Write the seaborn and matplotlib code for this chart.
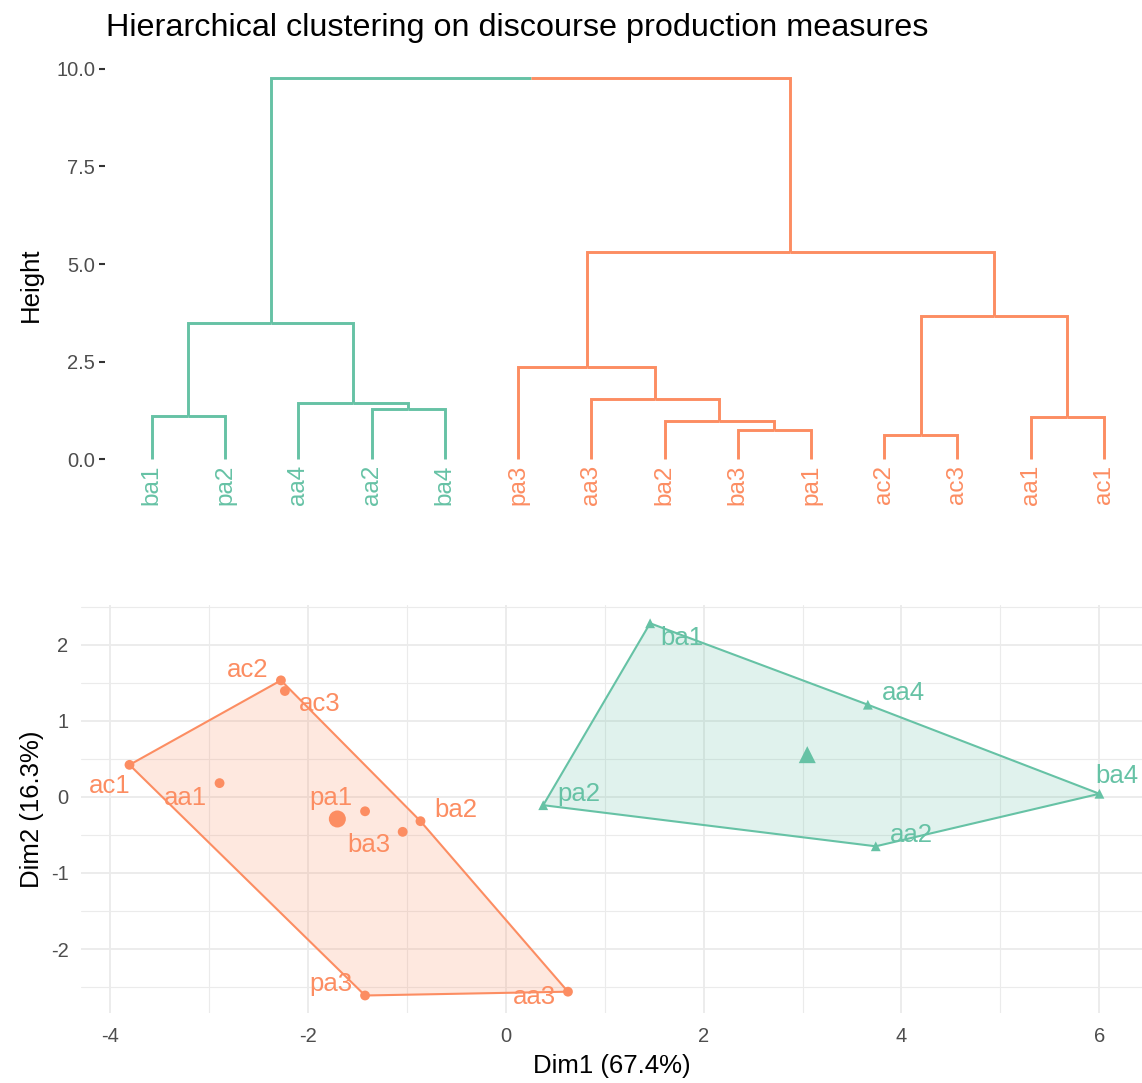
import numpy as np
import pandas as pd
import seaborn as sns
import matplotlib.pyplot as plt

# ~~~ Dendrogram data ~~~
leaf_order = ["ba1", "pa2", "aa4", "aa2", "ba4", "pa3", "aa3",
              "ba2", "ba3", "pa1", "ac2", "ac3", "aa1", "ac1"]
leaf_cluster = ["2"] * 5 + ["1"] * 9
# merge i creates node "m{i}"
merge_left = ["ba3", "ac2", "ba2", "aa1", "ba1", "aa2", "aa4",
              "aa3", "pa3", "m4", "m1", "m8", "m9"]
merge_right = ["pa1", "ac3", "m0", "ac1", "pa2", "ba4", "m5",
               "m2", "m7", "m6", "m3", "m10", "m11"]
merge_height = [0.74, 0.63, 0.99, 1.09, 1.12, 1.29, 1.45,
                1.55, 2.37, 3.50, 3.67, 5.31, 9.77]

# ~~~ PCA individuals ~~~
pt_labels = ["ac2", "ac3", "ac1", "aa1", "pa1", "ba2", "ba3", "pa3", "aa3",
             "ba1", "aa4", "ba4", "aa2", "pa2"]
dim1 = [-2.27, -2.23, -3.80, -2.89, -1.42, -0.86, -1.04, -1.42, 0.63,
        1.46, 3.66, 6.00, 3.74, 0.38]
dim2 = [1.53, 1.39, 0.42, 0.18, -0.19, -0.32, -0.46, -2.61, -2.56,
        2.28, 1.21, 0.04, -0.65, -0.11]
pt_cluster = ["1"] * 9 + ["2"] * 5

cluster_colors = {"1": "#FC8D62", "2": "#66C2A5"}
cluster_markers = {"1": "o", "2": "^"}

# label offsets (data units) like ggrepel put them
label_offset = {
    "ac2": (-0.34, 0.13), "ac3": (0.35, -0.17), "ac1": (-0.20, -0.28),
    "aa1": (-0.34, -0.20), "pa1": (-0.35, 0.17), "ba2": (0.36, 0.15),
    "ba3": (-0.34, -0.17), "pa3": (-0.35, 0.15), "aa3": (-0.34, -0.07),
    "ba1": (0.32, -0.19), "aa4": (0.36, 0.15), "ba4": (0.18, 0.23),
    "aa2": (0.36, 0.15), "pa2": (0.36, 0.15),
}

sns.set_theme(style="white")
plt.rcParams["font.family"] = ["Liberation Sans", "DejaVu Sans"]
plt.rcParams["axes.unicode_minus"] = False

W, H = 1142, 1083
fig = plt.figure(figsize=(W / 100, H / 100), dpi=100)

# ~~~ Top: dendrogram ~~~
ax1 = fig.add_axes([105 / W, 1 - 510 / H, 1037 / W, 451 / H])
nodes = {}
for i, lab in enumerate(leaf_order):
    nodes[lab] = (i + 1, 0.0, leaf_cluster[i])
for i, (l, r, h) in enumerate(zip(merge_left, merge_right, merge_height)):
    xl, yl, cl = nodes[l]
    xr, yr, cr = nodes[r]
    xm = (xl + xr) / 2
    for xc, yc, cc in ((xl, yl, cl), (xr, yr, cr)):
        ax1.plot([xc, xc, xm], [yc, h, h], color=cluster_colors.get(cc, "black"),
                 lw=2.1, solid_joinstyle="miter", solid_capstyle="butt")
    nodes[f"m{i}"] = (xm, h, cl if cl == cr else None)

for i, lab in enumerate(leaf_order):
    ax1.text(i + 1, -0.15, lab, rotation=90, ha="center", va="top",
             color=cluster_colors[leaf_cluster[i]], fontsize=17.5)

ax1.set_xlim(0.36, 14.52)
ax1.set_ylim(-1.3, 10.25)
ax1.set_xticks([])
ax1.set_yticks([0, 2.5, 5, 7.5, 10])
ax1.set_yticklabels(["0.0", "2.5", "5.0", "7.5", "10.0"])
ax1.tick_params(axis="y", left=True, length=4, width=1.5, color="#333333",
                labelcolor="#4D4D4D", labelsize=14.5, pad=3)
for s in ax1.spines.values():
    s.set_visible(False)
ax1.set_ylabel("Height", fontsize=18.5, color="black", labelpad=10)

fig.text(106 / W, 1 - 36 / H, "Hierarchical clustering on discourse production measures",
         fontsize=23.3, color="black", ha="left", va="baseline")

# ~~~ Bottom: cluster plot ~~~
ax2 = fig.add_axes([81 / W, 1 - 1013 / H, 1061 / W, 408 / H])
df = pd.DataFrame({"label": pt_labels, "Dim1": dim1, "Dim2": dim2, "cluster": pt_cluster})


def convex_hull(pts):
    pts = sorted(set(pts))

    def cross(o, a, b):
        return (a[0] - o[0]) * (b[1] - o[1]) - (a[1] - o[1]) * (b[0] - o[0])

    lower, upper = [], []
    for p in pts:
        while len(lower) >= 2 and cross(lower[-2], lower[-1], p) <= 0:
            lower.pop()
        lower.append(p)
    for p in reversed(pts):
        while len(upper) >= 2 and cross(upper[-2], upper[-1], p) <= 0:
            upper.pop()
        upper.append(p)
    return lower[:-1] + upper[:-1]


for cl, g in df.groupby("cluster"):
    hull = convex_hull(list(zip(g["Dim1"], g["Dim2"])))
    hx = [p[0] for p in hull] + [hull[0][0]]
    hy = [p[1] for p in hull] + [hull[0][1]]
    ax2.fill(hx, hy, facecolor=cluster_colors[cl], alpha=0.2, edgecolor="none", zorder=1)
    ax2.plot(hx, hy, color=cluster_colors[cl], lw=1.5, zorder=2)

sns.scatterplot(data=df, x="Dim1", y="Dim2", hue="cluster", style="cluster",
                palette=cluster_colors, markers=cluster_markers, s=50,
                linewidth=0, legend=False, ax=ax2, zorder=3)

centers = df.groupby("cluster", as_index=False)[["Dim1", "Dim2"]].mean()
sns.scatterplot(data=centers, x="Dim1", y="Dim2", hue="cluster", style="cluster",
                palette=cluster_colors, markers=cluster_markers, s=150,
                linewidth=0, legend=False, ax=ax2, zorder=3)

for _, row in df.iterrows():
    dx, dy = label_offset[row["label"]]
    ax2.text(row["Dim1"] + dx, row["Dim2"] + dy, row["label"], ha="center", va="center",
             fontsize=18.5, color=cluster_colors[row["cluster"]], zorder=4)

ax2.set_xlim(-4.29, 6.43)
ax2.set_ylim(-2.84, 2.52)
ax2.set_xticks([-4, -2, 0, 2, 4, 6])
ax2.set_xticks([-3, -1, 1, 3, 5], minor=True)
ax2.set_yticks([-2, -1, 0, 1, 2])
ax2.set_yticks([-2.5, -1.5, -0.5, 0.5, 1.5, 2.5], minor=True)
ax2.grid(which="major", color="#EBEBEB", lw=1.3)
ax2.grid(which="minor", color="#EBEBEB", lw=0.8)
ax2.set_axisbelow(True)
ax2.tick_params(which="both", length=0, labelcolor="#4D4D4D", labelsize=14.5)
ax2.tick_params(axis="x", pad=10)
ax2.tick_params(axis="y", pad=9)
for s in ax2.spines.values():
    s.set_visible(False)
ax2.set_xlabel("Dim1 (67.4%)", fontsize=18.5, color="black", labelpad=6)
ax2.set_ylabel("Dim2 (16.3%)", fontsize=18.5, color="black", labelpad=5)

fig.savefig("out.png", dpi=100)
